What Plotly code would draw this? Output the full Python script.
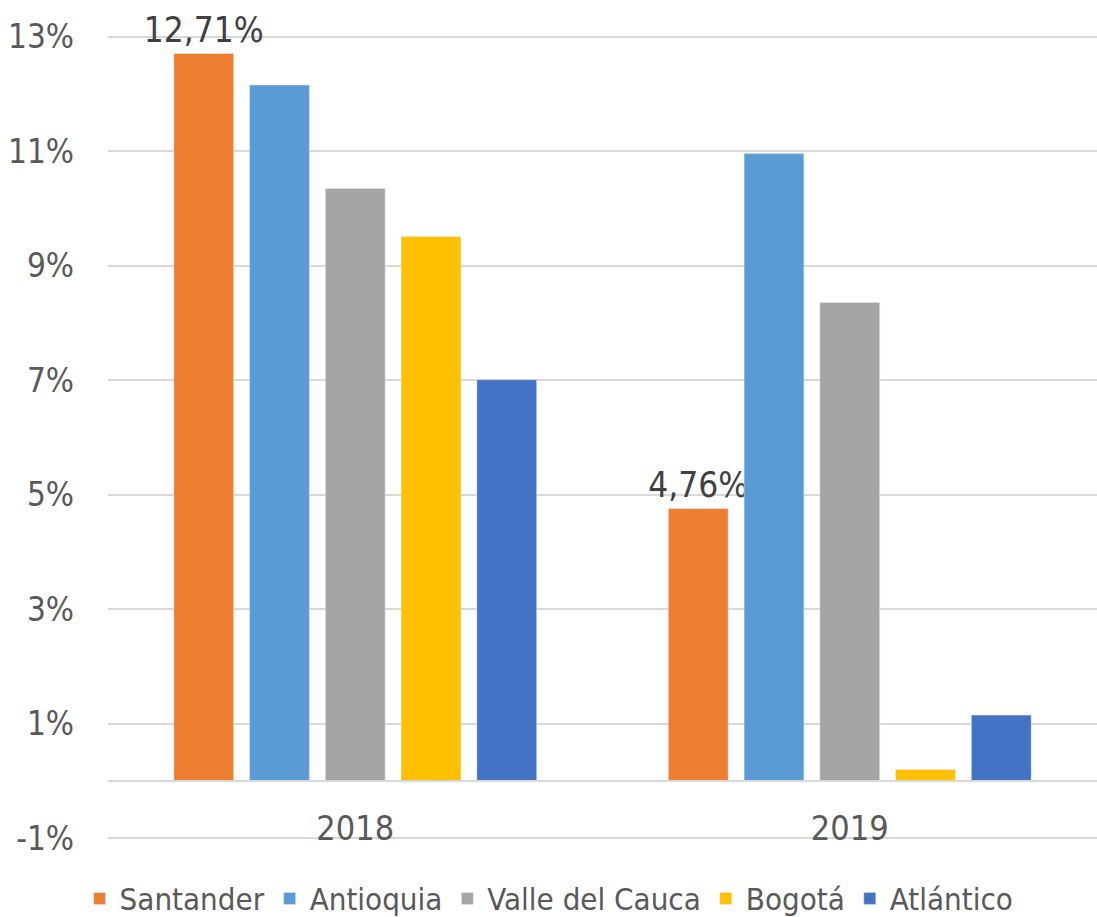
import plotly.graph_objects as go

years = ["2018", "2019"]
regions = ["Santander", "Antioquia", "Valle del Cauca", "Bogotá", "Atlántico"]
colors = ["#ed7d31", "#5b9bd5", "#a5a5a5", "#ffc000", "#4472c4"]
santander = [12.71, 4.76]
antioquia = [12.16, 10.96]
valle = [10.35, 8.36]
bogota = [9.51, 0.20]
atlantico = [7.01, 1.15]

series = [santander, antioquia, valle, bogota, atlantico]
tick_vals = [-1, 1, 3, 5, 7, 9, 11, 13]
tick_text = ["-1%", "1%", "3%", "5%", "7%", "9%", "11%", "13%"]

font = "DejaVu Sans Condensed"
y_min, y_max = -1.05, 13.05

fig = go.Figure()
for name, vals, col in zip(regions, series, colors):
    labelled = name == "Santander"
    fig.add_trace(go.Bar(
        x=years, y=vals, name=name, marker_color=col,
        texttemplate="%{y:.2f}%" if labelled else None,
        textposition="outside" if labelled else "none",
        textfont=dict(family=font, size=35, color="#404040"),
        constraintext="none",
        cliponaxis=False,
    ))

fig.update_layout(
    width=1097, height=917,
    margin=dict(l=108, r=0, t=34, b=76, autoexpand=False),
    paper_bgcolor="white", plot_bgcolor="white",
    barmode="group", bargap=0.234, bargroupgap=0.21,
    separators=",.",
    font=dict(family=font, color="#595959"),
    showlegend=True,
    legend=dict(orientation="h", x=0.446, xanchor="center", y=-0.105, yanchor="bottom",
                font=dict(size=31, color="#595959"), itemwidth=30,
                tracegroupgap=0),
)
fig.update_xaxes(
    anchor="free", position=(0 - y_min) / (y_max - y_min),
    showline=True, linecolor="#d9d9d9", linewidth=2,
    ticks="", ticklabelstandoff=17, automargin=False,
    tickfont=dict(size=34, color="#595959"),
)
fig.update_yaxes(
    range=[y_min, y_max], tickvals=tick_vals, ticktext=tick_text,
    showgrid=True, gridcolor="#d9d9d9", gridwidth=1.5,
    zeroline=False, ticklabelstandoff=33, automargin=False,
    tickfont=dict(size=33, color="#595959"),
)

# page has a default body margin that would add scrollbars
fig.write_html("out.html", config={"displayModeBar": False},
               post_script="document.body.style.margin = '0';")
